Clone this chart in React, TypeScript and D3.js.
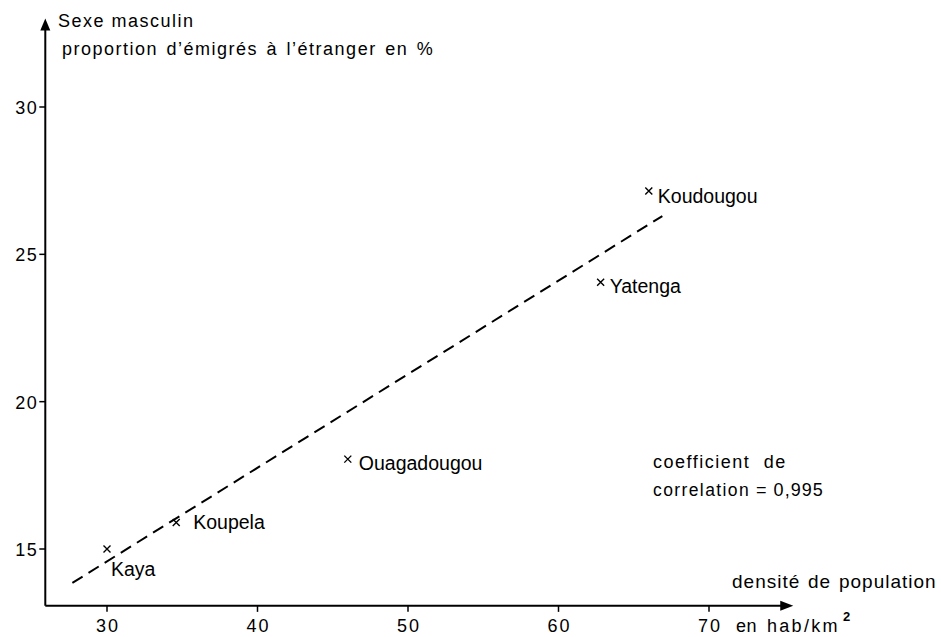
import React, { useEffect, useRef } from "react";
import * as d3 from "d3";

// districts and their values
const districts = ["Kaya", "Koupela", "Ouagadougou", "Yatenga", "Koudougou"];
const density = [30, 34.6, 46, 62.8, 66];
const emigres = [15, 15.9, 18.05, 24.05, 27.15];

const xTicks = [30, 40, 50, 60, 70];
const yTicks = [15, 20, 25, 30];

// dashed correlation line ends
const fitX = [27.7, 66.9];
const fitY = [13.85, 26.3];

const FONT = "'Liberation Sans', Arial, sans-serif";

// label offsets (px) relative to each cross
const labelOffset: Record<string, [number, number]> = {
  Kaya: [4, 27],
  Koupela: [17, 7],
  Ouagadougou: [11, 11],
  Yatenga: [9, 11],
  Koudougou: [9, 12],
};

const App = () => {
  const svgRef = useRef<SVGSVGElement | null>(null);

  useEffect(() => {
    const width = 941;
    const height = 637;
    const svg = d3.select(svgRef.current).attr("width", width).attr("height", height);
    svg.selectAll("*").remove();

    const x = d3.scaleLinear().domain([30, 70]).range([107, 709]);
    const y = d3.scaleLinear().domain([15, 30]).range([549, 107]);

    const x0 = 25.9; // where the y axis sits
    const y0 = 13.07; // where the x axis sits
    const xEnd = 75.6;
    const yEnd = 33.0;

    const g = svg.append("g");

    // axes
    g.append("line")
      .attr("x1", x(x0)).attr("y1", y(y0))
      .attr("x2", x(xEnd) - 8).attr("y2", y(y0))
      .attr("stroke", "#000").attr("stroke-width", 2);
    g.append("line")
      .attr("x1", x(x0)).attr("y1", y(y0))
      .attr("x2", x(x0)).attr("y2", y(yEnd) + 8)
      .attr("stroke", "#000").attr("stroke-width", 2);

    // arrowheads
    const ax = x(xEnd), ay = y(y0);
    g.append("path")
      .attr("d", `M${ax},${ay} L${ax - 13},${ay - 5} L${ax - 13},${ay + 5} Z`)
      .attr("fill", "#000");
    const bx = x(x0), by = y(yEnd);
    g.append("path")
      .attr("d", `M${bx},${by} L${bx - 5},${by + 12} L${bx + 5},${by + 12} Z`)
      .attr("fill", "#000");

    // y ticks
    yTicks.forEach((t) => {
      g.append("line")
        .attr("x1", x(x0) - 6).attr("x2", x(x0))
        .attr("y1", y(t)).attr("y2", y(t))
        .attr("stroke", "#000").attr("stroke-width", 1.5);
      g.append("text")
        .attr("x", x(x0) - 7).attr("y", y(t) + 7)
        .attr("text-anchor", "end")
        .style("font-family", FONT).style("font-size", "18px")
        .style("letter-spacing", "1.5px")
        .text(t);
    });

    // x ticks
    xTicks.forEach((t) => {
      g.append("line")
        .attr("x1", x(t)).attr("x2", x(t))
        .attr("y1", y(y0)).attr("y2", y(y0) + 6)
        .attr("stroke", "#000").attr("stroke-width", 1.5);
      g.append("text")
        .attr("x", x(t) + 1).attr("y", y(y0) + 26)
        .attr("text-anchor", "middle")
        .style("font-family", FONT).style("font-size", "18px")
        .style("letter-spacing", "2px")
        .text(t);
    });

    // regression line
    g.append("line")
      .attr("x1", x(fitX[0])).attr("y1", y(fitY[0]))
      .attr("x2", x(fitX[1])).attr("y2", y(fitY[1]))
      .attr("stroke", "#000").attr("stroke-width", 2)
      .attr("stroke-dasharray", "12,7");

    // points
    districts.forEach((name, i) => {
      const px = x(density[i]);
      const py = y(emigres[i]);
      const s = 3.5;
      g.append("path")
        .attr("d", `M${px - s},${py - s} L${px + s},${py + s} M${px - s},${py + s} L${px + s},${py - s}`)
        .attr("stroke", "#000").attr("stroke-width", 1.4);
      const [dx, dy] = labelOffset[name];
      g.append("text")
        .attr("x", px + dx).attr("y", py + dy)
        .style("font-family", FONT).style("font-size", "19.5px")
        .text(name);
    });

    // free text
    const txt = (tx: number, ty: number, s: string, size: number, ls = 0, ws = 0) =>
      g.append("text")
        .attr("x", tx).attr("y", ty)
        .style("font-family", FONT).style("font-size", `${size}px`)
        .style("letter-spacing", `${ls}px`)
        .style("word-spacing", `${ws}px`)
        .text(s);

    txt(58, 27, "Sexe masculin", 18, 1.5, 0);
    txt(62, 55, "proportion d\u2019émigrés à l\u2019étranger en %", 18, 1.5, 2);
    txt(732, 588, "densité de population", 19, 1, 1.5);
    txt(736, 632, "en", 18, 0.5, 0);
    txt(767, 632, "hab/km", 18, 2.3, 0);
    txt(843, 621, "2", 13, 0, 0).style("font-weight", "bold");

    txt(653, 468, "coefficient de", 18, 1.5, 7);
    const corr = txt(653, 496, "correlation", 17.5, 1.4, 0);
    corr.append("tspan").style("font-size", "18px").style("letter-spacing", "1px").text(" = 0,995");
  }, []);

  return (
    <svg
      ref={svgRef}
      style={{ position: "absolute", left: 0, top: 0, background: "#fff" }}
    />
  );
};

export default App;
